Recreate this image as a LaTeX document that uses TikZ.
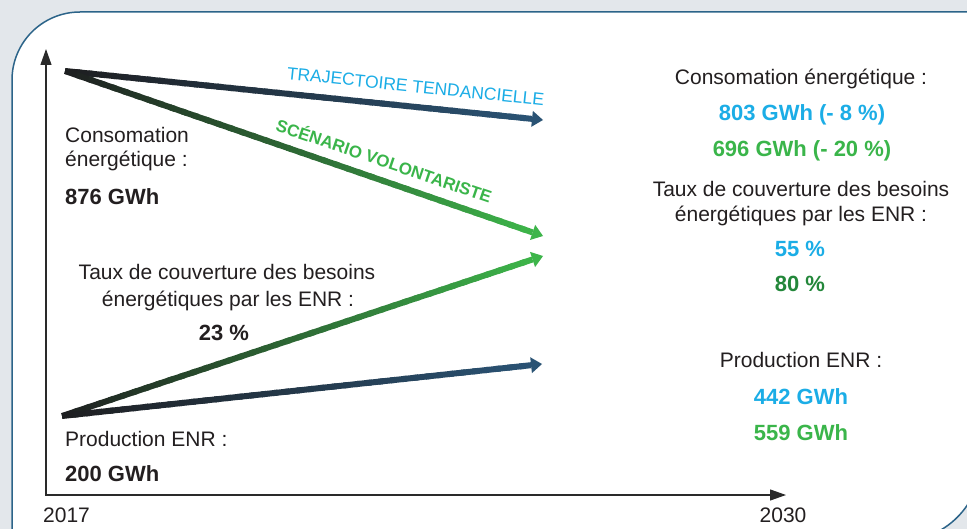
\documentclass[tikz,border=0pt]{standalone}
\usepackage{fontspec}
\setmainfont{Liberation Sans}
\usetikzlibrary{arrows.meta,calc}
\definecolor{bgray}{HTML}{E3E7EB}
\definecolor{frame}{HTML}{2C6489}
\definecolor{txt}{HTML}{231F20}
\definecolor{cyanT}{HTML}{1BADE6}
\definecolor{greenT}{HTML}{3AB54A}
\definecolor{dgreenT}{HTML}{23873A}
\definecolor{lineDark}{HTML}{1E1E20}
\definecolor{lineBlue}{HTML}{2A5374}
\definecolor{lineGreen}{HTML}{3DB54A}
\definecolor{axiscol}{HTML}{2A2A2A}
\newcommand{\gradarrow}[4]{%
  \coordinate (gbase) at ($(#2)!11pt!(#1)$);
  \foreach \i in {0,...,39}{%
    \pgfmathsetmacro{\ta}{\i/40}%
    \pgfmathsetmacro{\tb}{min((\i+1.4)/40,1)}%
    \pgfmathsetmacro{\pc}{(\i+0.5)*2.5}%
    \draw[line width=6pt, color=#4!\pc!#3] ($(#1)!\ta!(gbase)$) -- ($(#1)!\tb!(gbase)$);
  }%
  \fill[#4] (#2) -- ($(gbase)!8pt!90:(#2)$) -- ($(gbase)!8pt!-90:(#2)$) -- cycle;
}
\tikzset{
  lbl/.style={font=\fontsize{21}{25}\selectfont, text=txt, inner sep=0pt, anchor=base},
  val/.style={font=\fontsize{22}{26}\selectfont\bfseries, text=txt, inner sep=0pt, anchor=base},
  axisline/.style={draw=axiscol, line width=1.2pt},
}
\begin{document}
\begin{tikzpicture}[x=1pt,y=-1pt]
\useasboundingbox (0,0) rectangle (967,529);
\clip (0,0) rectangle (967,529);
\fill[bgray] (0,0) rectangle (967,529);
\filldraw[fill=white, draw=frame, line width=1.5pt] (12,560) -- (12,80) arc[start angle=180,end angle=270,radius=68] -- (981,12) -- (981,460) arc[start angle=0,end angle=90,radius=81] -- cycle;

% axes
\coordinate (O) at (46,495);
\coordinate (Ytop) at (46,49);
\coordinate (Xend) at (786,495);
\draw[axisline, {Triangle[length=16pt,width=11pt]}-{Triangle[length=16pt,width=11pt]}] (Ytop) -- (O) -- (Xend);

% trajectories
\coordinate (cs) at (65,71);
\coordinate (ct) at (543,120);
\coordinate (cv) at (543,236);
\coordinate (ps) at (62,416);
\coordinate (pv) at (543,256);
\coordinate (pt) at (542,364);
\gradarrow{cs}{ct}{lineDark}{lineBlue}
\gradarrow{cs}{cv}{lineDark}{lineGreen}
\gradarrow{ps}{pv}{lineDark}{lineGreen}
\gradarrow{ps}{pt}{lineDark}{lineBlue}

% rotated labels
\node[font=\fontsize{17.5}{20}\selectfont, text=cyanT, anchor=base, rotate=-5.9, inner sep=0pt] (trend) at (415,92.5) {TRAJECTOIRE TENDANCIELLE};
\node[font=\fontsize{17}{20}\selectfont\bfseries, text=greenT, anchor=base, rotate=-18.8, inner sep=0pt] (volont) at (382,167) {SCÉNARIO VOLONTARISTE};

% left texts
\node[lbl, anchor=base west] (lc1) at (65,143) {Consomation};
\node[lbl, anchor=base west] (lc2) at (65,167) {énergétique :};
\node[val, anchor=base west] (lc3) at (65,205) {876 GWh};
\node[lbl] (lt1) at (227,280) {Taux de couverture des besoins};
\node[lbl] (lt2) at (228,307) {énergétiques par les ENR :};
\node[val] (lt3) at (224,341) {23 \%};
\node[lbl, anchor=base west] (lp1) at (65,446) {Production ENR :};
\node[val, anchor=base west] (lp2) at (65,481) {200 GWh};
\node[lbl, anchor=base west] (y1) at (43,522) {2017};
\node[lbl] (y2) at (783,522) {2030};

% right texts
\node[lbl] (rc1) at (801,85) {Consomation énergétique :};
\node[val, text=cyanT] (rc2) at (802,121) {803 GWh (- 8 \%)};
\node[val, text=greenT] (rc3) at (802,157) {696 GWh (- 20 \%)};
\node[lbl] (rt1) at (801,197) {Taux de couverture des besoins};
\node[lbl] (rt2) at (801,222) {énergétiques par les ENR :};
\node[val, text=cyanT] (rt3) at (800,257) {55 \%};
\node[val, text=dgreenT] (rt4) at (800,292) {80 \%};
\node[lbl] (rp1) at (801,368) {Production ENR :};
\node[val, text=cyanT] (rp2) at (801,404) {442 GWh};
\node[val, text=greenT] (rp3) at (801,440) {559 GWh};
\end{tikzpicture}
\end{document}
